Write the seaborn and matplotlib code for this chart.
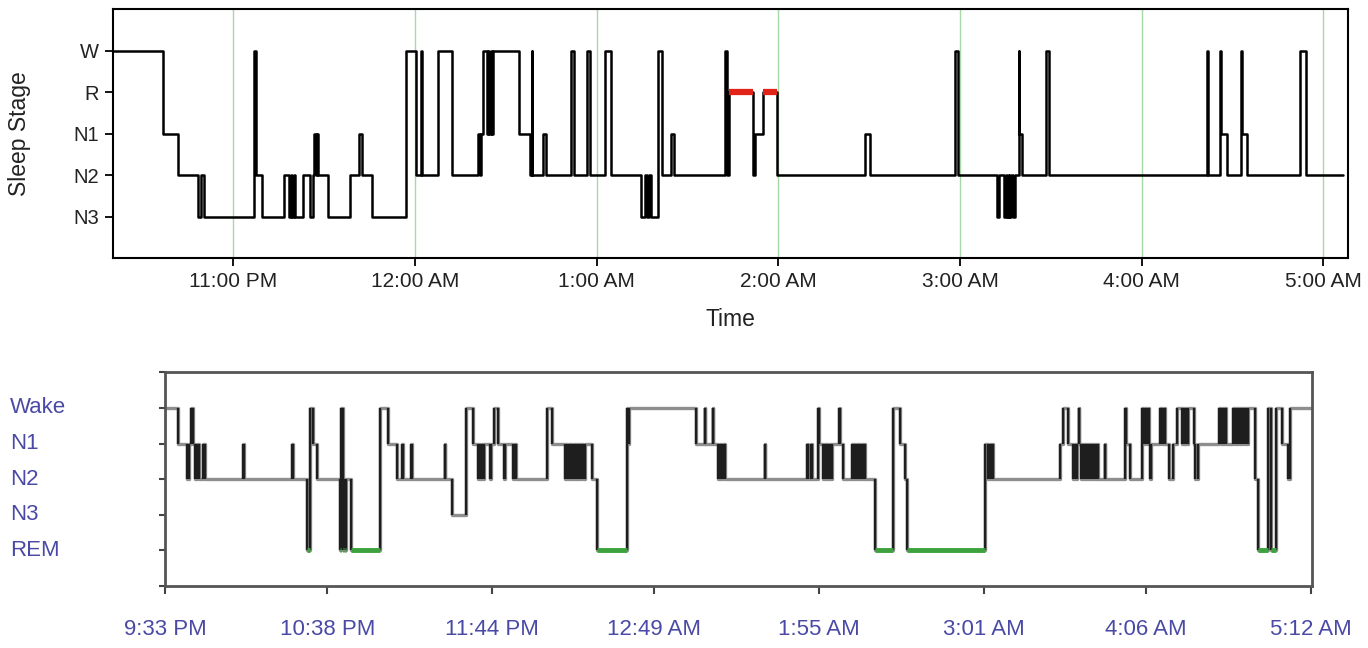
import numpy as np
import pandas as pd
import seaborn as sns
import matplotlib.pyplot as plt
from matplotlib.transforms import blended_transform_factory

# ---- top hypnogram: minutes after 10:00 PM and stage entered at that time
top_min = [20.3, 36.9, 41.6, 48.4, 49.4, 50.3, 66.8, 67.6, 69.4, 76.8,
           78.5, 79.0, 79.5, 80.0, 80.5, 83.1, 85.3, 86.2, 86.7, 87.2,
           87.6, 88.1, 91.4, 98.5, 101.6, 102.4, 105.7, 117.0, 120.5, 121.9,
           122.3, 127.7, 132.4, 140.9, 141.4, 141.9, 142.5, 143.7, 144.2, 144.6,
           145.1, 145.5, 145.9, 154.4, 158.0, 158.6, 158.8, 162.4, 163.3, 171.4,
           172.4, 176.7, 177.7, 182.7, 184.9, 194.6, 196.0, 196.5, 197.2, 197.8,
           200.1, 201.7, 204.5, 205.5, 222.3, 223.0, 223.6, 231.7, 232.4, 234.8,
           239.6, 268.6, 270.2, 298.3, 299.3, 312.3, 312.9, 314.5, 315.0, 315.5,
           316.0, 316.3, 316.7, 317.6, 318.1, 319.4, 319.6, 320.4, 328.4, 329.5,
           381.6, 381.8, 385.9, 386.1, 388.0, 392.8, 393.0, 394.6, 412.2, 414.2,
           426.5]
top_stage = ['W', 'N1', 'N2', 'N3', 'N2', 'N3', 'W', 'N2', 'N3', 'N2',
             'N3', 'N2', 'N3', 'N2', 'N3', 'N2', 'N3', 'N2', 'N1', 'N2',
             'N1', 'N2', 'N3', 'N2', 'N1', 'N2', 'N3', 'W', 'N2', 'W',
             'N2', 'W', 'N2', 'N1', 'N2', 'N1', 'W', 'N1', 'W', 'N1',
             'W', 'N1', 'W', 'N1', 'N2', 'W', 'N2', 'N1', 'N2', 'W',
             'N2', 'W', 'N2', 'W', 'N2', 'N3', 'N2', 'N3', 'N2', 'N3',
             'W', 'N2', 'N1', 'N2', 'W', 'N2', 'R', 'N2', 'N1', 'R',
             'N2', 'N1', 'N2', 'W', 'N2', 'N3', 'N2', 'N3', 'N2', 'N3',
             'N2', 'N3', 'N2', 'N3', 'N2', 'W', 'N1', 'N2', 'W', 'N2',
             'W', 'N2', 'W', 'N1', 'N2', 'W', 'N1', 'N2', 'W', 'N2',
             'N2']
top_order = ['N3', 'N2', 'N1', 'R', 'W']
top_tick_min = [60, 120, 180, 240, 300, 360, 420]
top_tick_lab = ['11:00 PM', '12:00 AM', '1:00 AM', '2:00 AM', '3:00 AM', '4:00 AM', '5:00 AM']

# ---- bottom hypnogram: minutes after 9:33 PM
bot_min = [0.0, 5.3, 8.7, 9.6, 10.3, 11.3, 12.0, 12.9, 13.7, 15.3,
           16.0, 31.3, 31.5, 50.8, 51.4, 56.8, 58.1, 59.4, 60.8, 70.1,
           70.6, 71.2, 71.7, 72.2, 72.6, 74.6, 86.1, 89.5, 92.8, 95.0,
           95.2, 98.7, 98.9, 112.1, 112.3, 114.8, 120.5, 123.5, 125.5, 125.9,
           126.3, 126.8, 127.3, 127.8, 130.1, 130.4, 131.9, 133.5, 136.0, 136.3,
           139.5, 140.0, 140.5, 152.9, 154.9, 160.2, 160.7, 161.2, 161.7, 162.2,
           162.7, 163.2, 163.7, 164.2, 164.7, 165.2, 165.7, 166.2, 166.8, 167.6,
           168.2, 168.9, 170.9, 172.9, 184.9, 185.3, 185.7, 212.9, 216.2, 216.4,
           219.5, 219.7, 221.6, 222.2, 222.8, 223.4, 224.3, 240.3, 240.5, 257.1,
           257.6, 258.6, 259.1, 261.6, 261.8, 263.7, 264.2, 264.7, 265.2, 265.7,
           266.2, 266.7, 267.2, 267.7, 270.0, 270.2, 271.7, 275.1, 275.6, 276.1,
           276.6, 277.1, 277.6, 278.1, 278.6, 279.1, 279.6, 280.1, 280.5, 284.4,
           291.8, 294.5, 296.5, 297.2, 328.5, 329.8, 330.3, 330.8, 331.3, 331.8,
           358.5, 359.9, 361.9, 363.9, 364.4, 364.9, 365.4, 366.0, 366.2, 366.9,
           367.4, 367.9, 368.4, 368.9, 369.4, 369.9, 370.4, 370.9, 371.4, 371.9,
           372.4, 372.9, 373.4, 373.9, 376.5, 376.7, 384.5, 384.8, 386.6, 391.3,
           392.0, 392.6, 393.2, 393.6, 394.0, 394.5, 395.0, 398.6, 399.4, 400.0,
           400.6, 402.0, 403.9, 405.3, 407.3, 407.8, 408.3, 408.8, 409.3, 409.9,
           412.4, 412.8, 414.0, 422.4, 422.9, 423.4, 423.9, 424.4, 425.1, 428.0,
           428.5, 429.0, 429.5, 430.0, 430.5, 431.0, 431.5, 432.0, 432.5, 433.0,
           433.5, 434.0, 436.7, 438.0, 442.0, 443.0, 445.1, 447.4, 450.0, 450.7,
           459.3]
bot_stage = ['Wake', 'N1', 'N2', 'N1', 'Wake', 'N1', 'N2', 'N1', 'N2', 'N1',
             'N2', 'N1', 'N2', 'N1', 'N2', 'REM', 'Wake', 'N1', 'N2', 'REM',
             'Wake', 'REM', 'N2', 'REM', 'N2', 'REM', 'Wake', 'N1', 'N2', 'N1',
             'N2', 'N1', 'N2', 'N1', 'N2', 'N3', 'Wake', 'N1', 'N2', 'N1',
             'N2', 'N1', 'N2', 'N1', 'N2', 'N1', 'Wake', 'N1', 'N2', 'N1',
             'N2', 'N1', 'N2', 'Wake', 'N1', 'N2', 'N1', 'N2', 'N1', 'N2',
             'N1', 'N2', 'N1', 'N2', 'N1', 'N2', 'N1', 'N2', 'N1', 'N2',
             'N1', 'N1', 'N2', 'REM', 'Wake', 'N1', 'Wake', 'N1', 'Wake', 'N1',
             'Wake', 'N1', 'N2', 'N1', 'N2', 'N1', 'N2', 'N1', 'N2', 'N1',
             'N2', 'N1', 'N2', 'Wake', 'N1', 'N2', 'N1', 'N2', 'N1', 'N2',
             'N1', 'N2', 'N1', 'N1', 'Wake', 'N1', 'N2', 'N1', 'N2', 'N1',
             'N2', 'N1', 'N2', 'N1', 'N2', 'N1', 'N2', 'N1', 'N2', 'REM',
             'Wake', 'N1', 'N2', 'REM', 'N1', 'N2', 'N1', 'N2', 'N1', 'N2',
             'N1', 'Wake', 'N1', 'N2', 'N1', 'N2', 'N1', 'Wake', 'N1', 'N2',
             'N1', 'N2', 'N1', 'N2', 'N1', 'N2', 'N1', 'N2', 'N1', 'N2',
             'N1', 'N2', 'N1', 'N2', 'N1', 'N2', 'Wake', 'N1', 'N2', 'Wake',
             'N1', 'Wake', 'N1', 'Wake', 'N1', 'N2', 'N1', 'Wake', 'N1', 'Wake',
             'N1', 'N2', 'N1', 'Wake', 'N1', 'Wake', 'N1', 'Wake', 'N1', 'Wake',
             'N1', 'N2', 'N1', 'Wake', 'N1', 'Wake', 'N1', 'Wake', 'N1', 'Wake',
             'N1', 'Wake', 'N1', 'Wake', 'N1', 'Wake', 'N1', 'Wake', 'N1', 'Wake',
             'N1', 'Wake', 'N2', 'REM', 'Wake', 'REM', 'Wake', 'N1', 'N2', 'Wake',
             'Wake']
bot_order = ['REM', 'N3', 'N2', 'N1', 'Wake']
bot_tick_min = [0, 65, 131, 196, 262, 328, 393, 459]
bot_tick_lab = ['9:33 PM', '10:38 PM', '11:44 PM', '12:49 AM', '1:55 AM', '3:01 AM', '4:06 AM', '5:12 AM']

sns.set_theme(style='white')
plt.rcParams['font.family'] = ['Liberation Sans', 'DejaVu Sans']

top = pd.DataFrame({'t': top_min, 'stage': top_stage})
top['lvl'] = top['stage'].map({s: i for i, s in enumerate(top_order)})
bot = pd.DataFrame({'t': bot_min, 'stage': bot_stage})
bot['lvl'] = bot['stage'].map({s: i for i, s in enumerate(bot_order)})

fig = plt.figure(figsize=(13.68, 6.48), dpi=100)
ax1 = fig.add_axes([0.0826, 0.6019, 0.9028, 0.3838])
ax2 = fig.add_axes([0.1206, 0.0957, 0.8387, 0.3298])

# top chart
sns.lineplot(data=top, x='t', y='lvl', drawstyle='steps-post', estimator=None,
             sort=False, color='black', lw=1.8, ax=ax1)
for i in range(len(top) - 1):
    if top['stage'][i] == 'R':
        ax1.hlines(top['lvl'][i], top['t'][i], top['t'][i + 1], color='#e2231a', lw=4.5, zorder=5)
ax1.set_xlim(20.3, 428.1)
ax1.set_ylim(-1, 5)
ax1.set_xticks(top_tick_min)
ax1.set_xticklabels(top_tick_lab, fontsize=15, color='#222222')
ax1.set_yticks(range(len(top_order)))
ax1.set_yticklabels(top_order, fontsize=14.5, color='#222222')
ax1.grid(axis='x', color='#a6d9a6', lw=1)
ax1.set_axisbelow(True)
ax1.tick_params(axis='both', direction='out', length=6, width=1.3, color='black',
                bottom=True, left=True, pad=4)
for sp in ax1.spines.values():
    sp.set_color('black')
    sp.set_linewidth(1.5)
ax1.set_xlabel('Time', fontsize=16.5, color='#222222')
ax1.set_ylabel('Sleep Stage', fontsize=16.5, color='#222222')
ax1.xaxis.set_label_coords(0.5, -0.2)
ax1.yaxis.set_label_coords(-0.066, 0.5)

# bottom chart
sns.lineplot(data=bot, x='t', y='lvl', drawstyle='steps-post', estimator=None,
             sort=False, color='#8e8e8e', lw=2.4, ax=ax2)
ax2.vlines(bot['t'][1:], bot['lvl'].values[:-1], bot['lvl'].values[1:],
           color='#1e1e1e', lw=1.7, zorder=4)
for i in range(len(bot) - 1):
    if bot['stage'][i] == 'REM':
        ax2.hlines(bot['lvl'][i], bot['t'][i], bot['t'][i + 1], color='#3da13d', lw=3.5, zorder=5)
ax2.set_xlim(0, 459.6)
ax2.set_ylim(-1, 5)
ax2.set_xticks(bot_tick_min)
ax2.set_xticklabels(bot_tick_lab, fontsize=16, color='#4a4aa6')
ax2.set_yticks(range(-1, 6))
ax2.set_yticklabels([])
ax2.tick_params(axis='x', direction='out', length=6, width=1.5, color='#444444',
                bottom=True, pad=18)
ax2.tick_params(axis='y', direction='out', length=4, width=1.5, color='#444444', left=True)
for sp in ax2.spines.values():
    sp.set_color('#555555')
    sp.set_linewidth(2)
ax2.set_xlabel('')
ax2.set_ylabel('')
trans = blended_transform_factory(fig.transFigure, ax2.transData)
for i, s in enumerate(bot_order):
    ax2.text(10 / 1368, i, s, transform=trans, ha='left', va='center',
             fontsize=16, color='#4a4aa6')

fig.savefig('out.png', dpi=100)
